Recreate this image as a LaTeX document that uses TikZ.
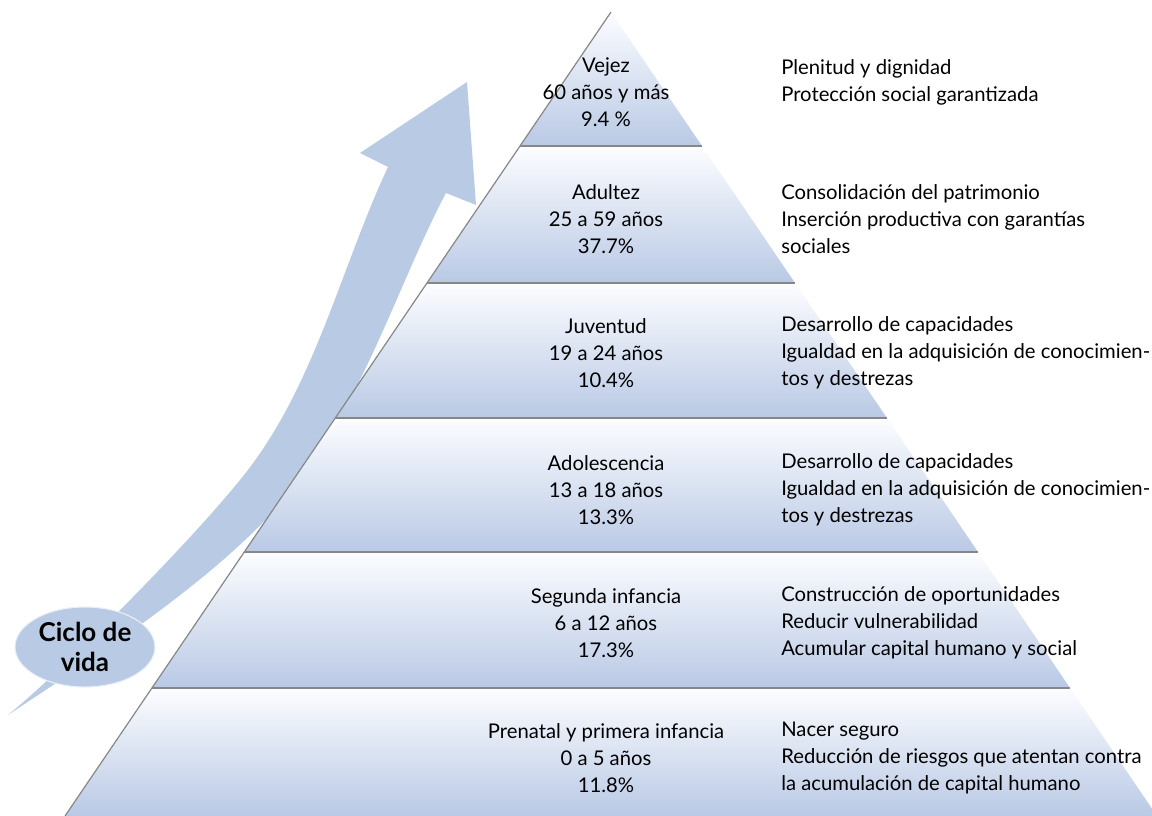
\documentclass[tikz,border=0pt]{standalone}
\usepackage{fontspec}
\setmainfont{Lato}
\usetikzlibrary{shapes.geometric}
\definecolor{arrowc}{RGB}{185,202,228}
\definecolor{bandtop}{RGB}{252,253,255}
\definecolor{bandbot}{RGB}{185,201,229}
\definecolor{edgegray}{RGB}{135,135,135}
\tikzset{
  band/.style={top color=bandtop, bottom color=bandbot, draw=none},
  sep/.style={draw=edgegray, line width=1.3pt},
  ctext/.style={align=center, font=\fontsize{15.2}{20.25}\selectfont, inner sep=0pt},
  rtext/.style={align=left, anchor=west, font=\fontsize{15.2}{20.25}\selectfont, inner sep=0pt},
}
\begin{document}
\begin{tikzpicture}[x=0.75pt,y=-0.75pt]
\useasboundingbox (0,0) rectangle (1152,816);
\clip (0,0) rectangle (1152,816);
% curved arrow
\fill[arrowc] (8,715) .. controls (98,655) and (232,570) .. (300,480)
  .. controls (367,390) and (400,280) .. (446,193)
  -- (476,205) -- (467,82) -- (360,153) -- (388,167)
  .. controls (340,269) and (314,390) .. (240,480)
  .. controls (183,550) and (63,670) .. (8,715) -- cycle;
\node[ellipse, fill=arrowc, draw=white!70!arrowc, line width=0.8pt, inner sep=0pt, minimum width=105pt, minimum height=60pt, align=center, font=\fontsize{19.5}{22}\selectfont\bfseries] (ciclo) at (85,647) {Ciclo de\\vida};
% pyramid bands
\shade[band] (611,12) -- (702,146) -- (520,146) -- cycle;
\shade[band] (520,146) -- (702,146) -- (795,283) -- (427,283) -- cycle;
\shade[band] (427,283) -- (795,283) -- (887,418) -- (335,418) -- cycle;
\shade[band] (335,418) -- (887,418) -- (978,552) -- (244,552) -- cycle;
\shade[band] (244,552) -- (978,552) -- (1070,688) -- (152,688) -- cycle;
\shade[band] (152,688) -- (1070,688) -- (1157,816) -- (65,816) -- cycle;
\draw[sep] (520,146) -- (702,146);
\draw[sep] (427,283) -- (795,283);
\draw[sep] (335,418) -- (887,418);
\draw[sep] (244,552) -- (978,552);
\draw[sep] (152,688) -- (1070,688);
\draw[edgegray, line width=0.9pt] (611,12) -- (65,816);
% centre texts
\node[ctext] (c1) at (606,92) {Vejez\\60 años y más\\9.4 \%};
\node[ctext] (c2) at (606,219) {Adultez\\25 a 59 años\\37.7\%};
\node[ctext] (c3) at (606,353) {Juventud\\19 a 24 años\\10.4\%};
\node[ctext] (c4) at (606,490) {Adolescencia\\13 a 18 años\\13.3\%};
\node[ctext] (c5) at (606,623) {Segunda infancia\\6 a 12 años\\17.3\%};
\node[ctext] (c6) at (606,758) {Prenatal y primera infancia\\0 a 5 años\\11.8\%};
% right texts
\node[rtext] (r1) at (781,82) {Plenitud y dignidad\\Protección social garantizada};
\node[rtext] (r2) at (781,219) {Consolidación del patrimonio\\Inserción productiva con garantías\\sociales};
\node[rtext] (r3) at (781,353) {Desarrollo de capacidades\\Igualdad en la adquisición de conocimien-\\tos y destrezas};
\node[rtext] (r4) at (781,490) {Desarrollo de capacidades\\Igualdad en la adquisición de conocimien-\\tos y destrezas};
\node[rtext] (r5) at (781,623) {Construcción de oportunidades\\Reducir vulnerabilidad\\Acumular capital humano y social};
\node[rtext] (r6) at (781,758) {Nacer seguro\\Reducción de riesgos que atentan contra\\la acumulación de capital humano};
\end{tikzpicture}
\end{document}
